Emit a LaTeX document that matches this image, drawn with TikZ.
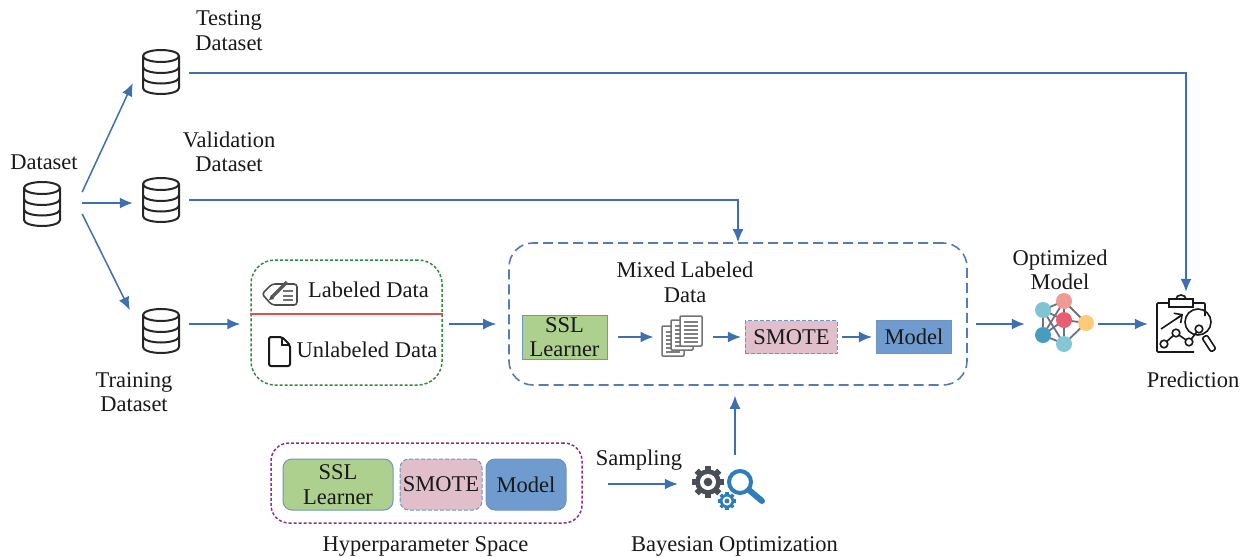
\documentclass[tikz,border=0pt]{standalone}
\usepackage{fontspec}
\setmainfont{Liberation Serif}
\usepackage{tikz}
\usetikzlibrary{arrows.meta,positioning,calc}
\definecolor{flowblue}{HTML}{3F6FAE}
\definecolor{sslgreen}{HTML}{AED08F}
\definecolor{smotepink}{HTML}{E0BFCA}
\definecolor{modelblue}{HTML}{6F9BCE}
\definecolor{edgeblue}{HTML}{6E94C0}
\definecolor{gearblue}{HTML}{2F7CBB}
\definecolor{geargray}{HTML}{4A4F57}
\definecolor{boxgreen}{HTML}{2E8B3D}
\definecolor{boxpurple}{HTML}{8E2D8E}
\definecolor{splitred}{HTML}{D9534F}
\definecolor{netgray}{HTML}{6F6F85}
\newcommand{\drawgear}[3]{%
  \begin{scope}[shift={#1}]
    \foreach \a in {0,45,...,315} \draw[#3, line width=0.36*#2 pt] (\a:0.6*#2) -- (\a:#2);
    \fill[#3] (0,0) circle ({0.8*#2});
    \fill[white] (0,0) circle ({0.5*#2});
    \fill[#3] (0,0) circle ({0.27*#2});
  \end{scope}}
\tikzset{
  label/.style={inner sep=0pt, align=center, text=black!90, font=\fontsize{22.5}{24.5}\selectfont},
  flow/.style={draw=flowblue, line width=1.5pt, -{Latex[length=13pt,width=11pt]}},
  slot/.style={inner sep=0pt, minimum width=#1, minimum height=46pt},
  sslbox/.style={label, fill=sslgreen, draw=edgeblue, line width=1pt},
  smotebox/.style={label, fill=smotepink, draw=edgeblue, line width=1pt, dash pattern=on 4pt off 2pt},
  modelbox/.style={label, fill=modelblue, draw=edgeblue, line width=1pt},
  pics/dbicon/.style={code={
    \draw[line width=2pt, black!85, line join=round] (-18,-16) arc[start angle=180, end angle=-180, x radius=18, y radius=6]
      -- (-18,16) arc[start angle=180, end angle=0, x radius=18, y radius=6] -- (18,-16);
    \draw[line width=2pt, black!85] (-18,-5) arc[start angle=180, end angle=0, x radius=18, y radius=6];
    \draw[line width=2pt, black!85] (-18,5.5) arc[start angle=180, end angle=0, x radius=18, y radius=6];
  }},
  pics/sheeticon/.style={code={
    \draw[black!55, fill=white, line width=1.5pt, rounded corners=1pt] (-11,-15) rectangle (11,15);
    \foreach \y in {-9,-5,...,11} \draw[black!50, line width=1.2pt] (-7,\y) -- (7,\y);
  }},
  pics/tagicon/.style={code={
    \draw[black!70, line width=1.6pt, rounded corners=3pt] (-8,-10) -- (17,-10) -- (17,11) -- (-8,11) -- (-18,0) -- cycle;
    \foreach \y in {-3,2,6} \draw[black!55, line width=1.2pt] (3,\y) -- (13,\y);
    \draw[black!65, line width=3.5pt] (-8,3) -- (7,-12);
    \fill[black!70] (-11,6) -- (-9,1) -- (-6,5) -- cycle;
  }},
  pics/pageicon/.style={code={
    \draw[black!90, line width=2pt, rounded corners=2pt, line join=round] (3,-15) -- (-10,-15) -- (-10,14) -- (11,14) -- (11,-7) -- cycle;
    \draw[black!90, line width=1.6pt] (3,-15) -- (3,-7) -- (11,-7);
  }},
  pics/neticon/.style={code={
    \coordinate (n1) at (-22,-13); \coordinate (n2) at (-1,-22);
    \coordinate (n3) at (-1,-3); \coordinate (n4) at (21,0);
    \coordinate (n5) at (-22,12); \coordinate (n6) at (-1,21);
    \foreach \u/\v in {n1/n2,n1/n3,n1/n6,n2/n3,n2/n4,n2/n5,n3/n4,n3/n5,n3/n6,n4/n6,n5/n6,n1/n5}
      \draw[netgray, line width=1.8pt] (\u) -- (\v);
    \foreach \u/\c in {n1/7FC4D3,n2/F09A94,n3/E85E70,n4/FBCB7A,n5/479DBD,n6/84C8D5}{
      \definecolor{dotc}{HTML}{\c}
      \fill[dotc] (\u) circle (8);
    }
  }},
  pics/predicticon/.style={code={
    \draw[black!90, line width=1.6pt, rounded corners=1pt] (8,28) -- (-29,28) -- (-29,-21) -- (19,-21) -- (19,-8);
    \draw[black!90, line width=1.6pt] (-10,-25) arc[start angle=180, end angle=360, x radius=5, y radius=4];
    \draw[black!90, fill=white, line width=1.6pt] (-17,-25) rectangle (7,-17);
    \draw[black!90, line width=1.6pt] (-25,5) -- (-4,-9);
    \draw[black!90, -{Straight Barb[length=6pt]}, line width=1.6pt] (-10,-5) -- (-3,-10);
    \draw[black!90, line width=1.6pt] (-22,20) -- (-10,9) -- (3,18) -- (13,5);
    \foreach \p in {(-22,20),(-10,9),(3,18),(13,5)} \draw[black!90, fill=white, line width=1.6pt] \p circle (3.8);
    \draw[black!90, line width=1.6pt] (12,-2) circle (13);
    \draw[black!90, fill=white, line width=1.6pt, rounded corners=2pt] (16,14) -- (21,11) -- (30,25) -- (25,28) -- cycle;
  }}
}
\begin{document}
\begin{tikzpicture}[x=1pt,y=-1pt]
\useasboundingbox (0,0) rectangle (1248,557);
% datasets
\node[slot=80pt] (dataset) at (42,204) {};
\node[slot=56pt] (testing) at (161,72) {};
\node[slot=56pt] (validation) at (161,200) {};
\node[slot=56pt] (training) at (161,331) {};
\foreach \n in {dataset,testing,validation,training} \pic at (\n) {dbicon};
\node[label] (datasetlabel) at (44,162) {Dataset};
\node[label] (testinglabel) at (229,30.5) {Testing\\Dataset};
\node[label] (validationlabel) at (229,152) {Validation\\Dataset};
\node[label] (traininglabel) at (134,392) {Training\\Dataset};

% labeled / unlabeled box
\node[draw=boxgreen, line width=1.5pt, dash pattern=on 3pt off 2pt, rounded corners=24pt,
  minimum width=191pt, minimum height=125pt, inner sep=0pt] (databox) at (346.5,322.5) {};
\draw[splitred, line width=1.6pt] (databox.west |- 0,314) coordinate (splitl) -- (databox.east |- 0,314) coordinate (splitr);
\pic at (280,294) {tagicon};
\pic at (279,352) {pageicon};
\node[label] (labeled) at (368.5,290) {Labeled Data};
\node[label] (unlabeled) at (367,350) {Unlabeled Data};

% mixed box
\node[draw=flowblue!90, line width=1.6pt, dash pattern=on 10pt off 5pt, rounded corners=24pt,
  minimum width=458pt, minimum height=142pt, inner sep=0pt] (trainbox) at (738,314) {};
\node[sslbox, minimum width=85pt, minimum height=44pt] (ssltrain) at (564.5,337) {SSL\\Learner};
\node[slot=40pt, right=55pt of ssltrain] (sheets) {};
\pic at (673,341) {sheeticon};
\pic at (682,335) {sheeticon};
\pic at (691,331) {sheeticon};
\node[smotebox, minimum width=92pt, minimum height=33pt, right=42pt of sheets] (smotetrain) {SMOTE};
\node[modelbox, minimum width=75pt, minimum height=33pt, right=38pt of smotetrain] (modeltrain) {Model};
\node[label] (mixedlabel) at (685,282.5) {Mixed Labeled\\Data};

% results
\node[inner sep=0pt, minimum width=62pt, minimum height=58pt] (optimized) at (1065,324) {};
\pic at (1065,323) {neticon};
\node[label] (optimizedlabel) at (1060,270) {Optimized\\Model};
\node[inner sep=0pt, minimum width=60pt, minimum height=64pt] (prediction) at (1186,324) {};
\pic at (1186,324) {predicticon};
\node[label] (predictionlabel) at (1193,380) {Prediction};

% hyperparameter space
\node[draw=boxpurple, line width=1.5pt, dash pattern=on 3pt off 2pt, rounded corners=18pt,
  minimum width=311pt, minimum height=80pt, inner sep=0pt] (hyperbox) at (426.5,483) {};
\node[sslbox, rounded corners=9pt, minimum width=110pt, minimum height=51pt] (sslspace) at (338,484.5) {SSL\\Learner};
\node[smotebox, rounded corners=9pt, minimum width=82pt, minimum height=51pt, inner xsep=0pt, right=6pt of sslspace] (smotespace) {SMOTE};
\node[modelbox, rounded corners=9pt, minimum width=80pt, minimum height=51pt, right=3pt of smotespace] (modelspace) {Model};
\node[label] (hyperlabel) at (425.5,546) {Hyperparameter Space};
\node[label] (samplinglabel) at (639,460) {Sampling};
\node[inner sep=0pt, minimum width=78pt, minimum height=58pt] (bayes) at (733,484) {};
\drawgear{(708,482)}{16}{geargray}
\drawgear{(727,501)}{9}{gearblue}
\draw[gearblue, line width=4pt] (740,482) circle (11);
\draw[gearblue, line width=6pt, line cap=round] (749,490) -- (762,501);
\node[label] (bayeslabel) at (734.5,546) {Bayesian Optimization};

% connectors
\draw[flow] ([yshift=12pt]dataset.east) -- ([yshift=-11pt]testing.west);
\draw[flow] ([yshift=1pt]dataset.east) -- ([yshift=-3pt]validation.west);
\draw[flow] ([yshift=-10pt]dataset.east) -- ([xshift=-3pt,yshift=21pt]training.west);
\draw[flow] ([yshift=-1pt]testing.east) -| (prediction.north);
\draw[flow] (validation.east) -| (trainbox.north);
\draw[flow] ([yshift=7pt]training.east) -- ([xshift=-10pt,yshift=-1.5pt]databox.west);
\draw[flow] ([xshift=6pt,yshift=-1.5pt]databox.east) -- ([xshift=-12pt,yshift=-10pt]trainbox.west);
\draw[flow] ([xshift=10pt]ssltrain.east) -- ([xshift=-9pt]sheets.west);
\draw[flow] ([xshift=10pt]sheets.east) -- ([xshift=-4pt]smotetrain.west);
\draw[flow] ([xshift=4pt]smotetrain.east) -- ([xshift=-4pt]modeltrain.west);
\draw[flow] ([xshift=8pt,yshift=-10pt]trainbox.east) -- ([xshift=-9pt]optimized.west);
\draw[flow] ([xshift=2pt]optimized.east) -- ([xshift=-8pt]prediction.west);
\draw[flow] ([xshift=25pt,yshift=-1pt]hyperbox.east) -- ([xshift=-16pt]bayes.west);
\draw[flow] ([xshift=2pt]bayes.north) -- ([xshift=2pt,yshift=59pt]bayes.north);
\end{tikzpicture}
\end{document}
